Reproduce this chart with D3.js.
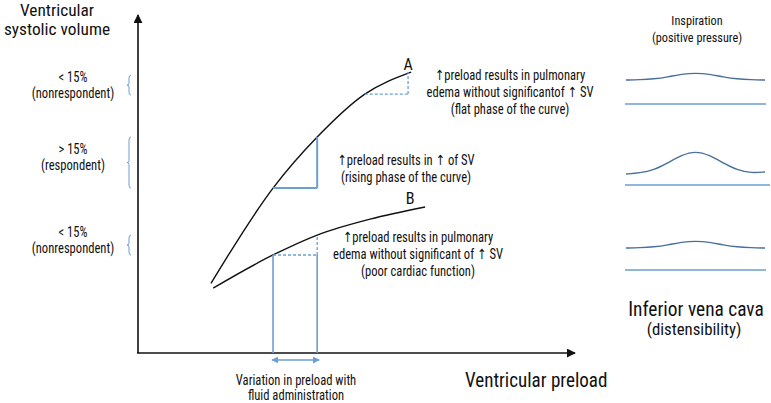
<!DOCTYPE html>
<html><head><meta charset="utf-8">
<script src="https://cdn.jsdelivr.net/npm/d3@7"></script>
<style>
html,body{margin:0;padding:0;background:#fff;}
svg{display:block;}
text{font-family:"Liberation Sans Narrow","Roboto Condensed","DejaVu Sans Condensed","Liberation Sans",sans-serif;fill:#111;}
</style></head>
<body>
<svg id="chart" width="771" height="403"></svg>
<script>
// ---- data (axis units 0..100) ----
const curveAX = [16.7, 30.9, 41.0, 51.9, 62.5];
const curveAY = [20.6, 48.8, 63.9, 76.6, 83.1];
const curveBX = [17.2, 30.9, 41.0, 53.1, 65.7];
const curveBY = [19.2, 29.0, 34.9, 39.6, 43.2];
// rising-phase step on curve A
const risingX = [30.9, 41.0];
const risingY = [48.8, 63.9];
// flat-phase step on curve A
const flatX = [51.9, 61.8];
const flatY = [76.6, 83.1];
// step on curve B
const poorX = [30.9, 41.0];
const poorY = [29.0, 34.9];

const leftLabels = [["< 15%", "(nonrespondent)"], ["> 15%", "(respondent)"], ["< 15%", "(nonrespondent)"]];
const notes = [
  ["↑preload results in pulmonary", "edema without significantof ↑ SV", "(flat phase of the curve)"],
  ["↑preload results in ↑ of SV", "(rising phase of the curve)"],
  ["↑preload results in pulmonary", "edema without significant of ↑ SV", "(poor cardiac function)"]
];
// inferior vena cava waves (right panel): height above baseline at 11 samples
const waveX = [0, 1, 2, 3, 4, 5, 6, 7, 8, 9, 10];
const wave1 = [0, 0.3, 1, 3, 6, 7, 6, 3, 1, 0.3, 0];
const wave2 = [0, 1, 4, 11, 19, 23, 19, 11, 4, 1, 2];
const wave3 = [0, 0.3, 1, 3, 6, 7, 6, 3, 1, 0.3, 0];

const svg = d3.select("#chart");
const x = d3.scaleLinear().domain([0, 100]).range([138, 575]);
const y = d3.scaleLinear().domain([0, 100]).range([353, 15]);

const BLUE = "#6a9fd3";
const DARK = "#4a6f9a";

const defs = svg.append("defs");
function marker(id, color, size) {
  defs.append("marker").attr("id", id).attr("viewBox", "0 0 10 10")
    .attr("refX", 9).attr("refY", 5).attr("markerWidth", size).attr("markerHeight", size)
    .attr("markerUnits", "userSpaceOnUse").attr("orient", "auto-start-reverse")
    .append("path").attr("d", "M0,0 L10,5 L0,10 Z").attr("fill", color);
}
marker("arrK", "#111", 9);
marker("arrB", BLUE, 7);

// axes
svg.append("line").attr("x1", x(0)).attr("y1", y(0)).attr("x2", x(0)).attr("y2", y(100))
  .attr("stroke", "#111").attr("stroke-width", 1.6).attr("marker-end", "url(#arrK)");
svg.append("line").attr("x1", x(0) - 1).attr("y1", y(0)).attr("x2", x(100)).attr("y2", y(0))
  .attr("stroke", "#111").attr("stroke-width", 1.6).attr("marker-end", "url(#arrK)");

// curves
const line = d3.line().x(d => x(d[0])).y(d => y(d[1])).curve(d3.curveMonotoneX);
svg.append("path").attr("d", line(d3.zip(curveAX, curveAY))).attr("fill", "none").attr("stroke", "#111").attr("stroke-width", 1.4);
svg.append("path").attr("d", line(d3.zip(curveBX, curveBY))).attr("fill", "none").attr("stroke", "#111").attr("stroke-width", 1.4);

function seg(x1, y1, x2, y2, opts) {
  const l = svg.append("line").attr("x1", x(x1)).attr("y1", y(y1)).attr("x2", x(x2)).attr("y2", y(y2))
    .attr("stroke", opts.color || BLUE).attr("stroke-width", opts.w || 1.6);
  if (opts.dash) l.attr("stroke-dasharray", opts.dash);
  return l;
}
// rising phase
seg(risingX[0], risingY[0], risingX[1], risingY[0], {w: 2});
seg(risingX[1], risingY[0], risingX[1], risingY[1], {w: 2});
// flat phase (dashed)
seg(flatX[0], flatY[0], flatX[1], flatY[0], {w: 1.3, dash: "3,2"});
seg(flatX[1], flatY[0], flatX[1], flatY[1], {w: 1.3, dash: "3,2"});
// curve B
seg(poorX[0], poorY[0], poorX[1], poorY[0], {w: 1.3, dash: "3,2"});
seg(poorX[1], poorY[0], poorX[1], poorY[1], {w: 1.3, dash: "3,2"});
seg(poorX[0], 0, poorX[0], poorY[0], {w: 1.6});
seg(poorX[1], 0, poorX[1], poorY[0], {w: 1.6});
// double arrow
svg.append("line").attr("x1", x(poorX[0]) - 1).attr("x2", x(poorX[1]) + 2).attr("y1", y(0) + 7).attr("y2", y(0) + 7)
  .attr("stroke", BLUE).attr("stroke-width", 1.6)
  .attr("marker-start", "url(#arrB)").attr("marker-end", "url(#arrB)");

// braces
function brace(bx, y0, y1) {
  const ym = (y0 + y1) / 2;
  const p = `M${bx + 2},${y0} Q${bx},${y0} ${bx},${y0 + 3} L${bx},${ym - 2} Q${bx},${ym} ${bx - 2},${ym} Q${bx},${ym} ${bx},${ym + 2} L${bx},${y1 - 3} Q${bx},${y1} ${bx + 2},${y1}`;
  svg.append("path").attr("d", p).attr("fill", "none").attr("stroke", BLUE).attr("stroke-width", 1);
}
brace(129, y(flatY[1]) + 3, y(flatY[0]) + 1);
brace(129, y(risingY[1]), y(risingY[0]));
brace(129, y(poorY[1]), y(poorY[0]));

// text helper: condensed glyphs via horizontal scale
function txt(tx, ty, str, size, sx, anchor) {
  svg.append("text").attr("transform", `translate(${tx},${ty}) scale(${sx},1)`)
    .attr("text-anchor", anchor || "middle").attr("font-size", size).text(str);
}
function multi(cx, ys, lines, size, sx) {
  lines.forEach((t, i) => txt(cx, ys[i], t, size, sx));
}

// labels A / B
txt(x(flatX[1]), y(flatY[1]) - 2, "A", 17, 0.95);
txt(x(curveBX[4]) - 15, y(curveBY[4]) - 3, "B", 17, 0.95);

// axis titles
txt(57, 16, "Ventricular", 17, 1.02);
txt(57, 35, "systolic volume", 17, 1.02);
txt(465, 387, "Ventricular preload", 20.5, 0.93, "start");
multi(296, [385, 400], ["Variation in preload with", "fluid administration"], 14, 0.9);

// left labels
multi(73, [82, 98], leftLabels[0], 14, 0.9);
multi(73, [154, 170], leftLabels[1], 14, 0.9);
multi(73, [237, 253], leftLabels[2], 14, 0.9);

// notes
multi(510, [80, 97, 114], notes[0], 14, 0.9);
multi(406, [165, 182], notes[1], 14, 0.9);
multi(418, [242, 259, 276], notes[2], 14, 0.9);

// right panel
const wx = d3.scaleLinear().domain([0, 10]).range([626, 765]);
const wl = d3.line().x(d => wx(d[0])).y(d => d[1]).curve(d3.curveBasis);
[[wave1, 80, 104, 766], [wave2, 174, 185, 770], [wave3, 248, 270, 766]].forEach(([w, base, flat, end]) => {
  svg.append("path").attr("d", wl(waveX.map((v, i) => [v, base - w[i]]))).attr("fill", "none").attr("stroke", DARK).attr("stroke-width", 1.4);
  svg.append("line").attr("x1", 625).attr("x2", end).attr("y1", flat).attr("y2", flat).attr("stroke", BLUE).attr("stroke-width", 1.4);
});
multi(697, [25, 42], ["Inspiration", "(positive pressure)"], 12.5, 0.98);
txt(696, 316, "Inferior vena cava", 20, 0.97);
txt(694, 335, "(distensibility)", 16, 1.05);
</script>
</body></html>
